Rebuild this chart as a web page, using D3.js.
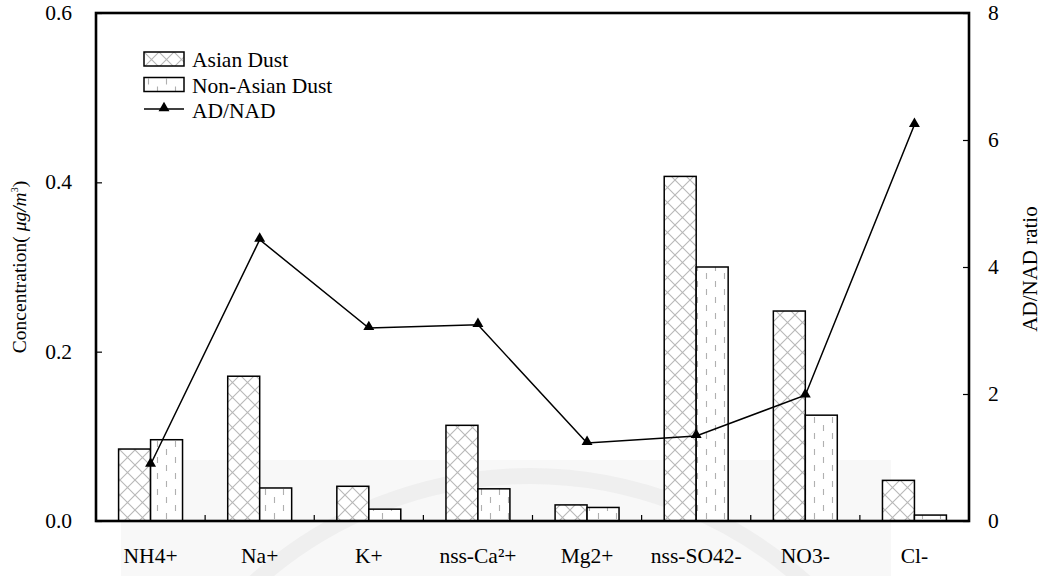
<!DOCTYPE html>
<html>
<head>
<meta charset="utf-8">
<script src="https://cdn.jsdelivr.net/npm/d3@7"></script>
<style>
  html, body { margin: 0; padding: 0; background: #fff; }
  svg { display: block; }
  svg text { font-family: "Liberation Serif", "Times New Roman", "DejaVu Serif", serif; fill: #000; }
</style>
</head>
<body>
<svg id="chart" width="1043" height="576"></svg>
<script>
// Ion species on the x axis
const categories = ["NH4+", "Na+", "K+", "nss-Ca²+", "Mg2+", "nss-SO42-", "NO3-", "Cl-"];
// Mean concentrations (µg/m³)
const asianDust    = [0.085, 0.171, 0.041, 0.113, 0.019, 0.407, 0.248, 0.048];
const nonAsianDust = [0.096, 0.039, 0.014, 0.038, 0.016, 0.300, 0.125, 0.007];
// Ratio of Asian Dust to Non-Asian Dust concentrations
const ratio        = [0.89, 4.43, 3.04, 3.09, 1.23, 1.34, 1.98, 6.24];
// Axis tick values
const leftTicks  = [0, 0.2, 0.4, 0.6];
const rightTicks = [0, 2, 4, 6, 8];
const seriesNames = ["Asian Dust", "Non-Asian Dust"];

const serif = "Liberation Serif, Times New Roman, serif";
const svg = d3.select("#chart");
const plot = { left: 96, right: 969, top: 13, bottom: 521 };

// faint seal backdrop behind the lower part of the chart
const wm = svg.append("g");
wm.append("rect").attr("x", 121).attr("y", 460).attr("width", 770).attr("height", 116)
  .attr("fill", "#f8f8f8");
const wmCx = 530, wmCy = 886;
wm.append("path").attr("fill", "none").attr("stroke", "#efefef").attr("stroke-width", 16)
  .attr("d", `M${wmCx - 410},${wmCy} A410,410 0 0 1 ${wmCx + 410},${wmCy}`);

// patterns
const defs = svg.append("defs");
const cross = defs.append("pattern").attr("id", "crossHatch")
  .attr("patternUnits", "userSpaceOnUse").attr("width", 15).attr("height", 15);
cross.append("rect").attr("width", 15).attr("height", 15).attr("fill", "#fff");
cross.append("path").attr("d", "M0,0 L15,15 M15,0 L0,15 M-1,14 L1,16 M14,-1 L16,1")
  .attr("stroke", "#b8b8b8").attr("stroke-width", 1.1);

const dash = defs.append("pattern").attr("id", "dashV")
  .attr("patternUnits", "userSpaceOnUse").attr("width", 18).attr("height", 16);
dash.append("rect").attr("width", 18).attr("height", 16).attr("fill", "#fff");
dash.append("path").attr("d", "M4.5,1 L4.5,7 M13.5,9 L13.5,15")
  .attr("stroke", "#b0b0b0").attr("stroke-width", 1.1);

const x = d3.scaleBand().domain(categories).range([plot.left, plot.right]).padding(0);
const bw = x.bandwidth();
const barW = bw * 0.293;
const xSub = d3.scaleBand().domain(seriesNames).range([bw / 2 - barW, bw / 2 + barW]);
const y = d3.scaleLinear().domain([0, 0.6]).range([plot.bottom, plot.top]);
const yR = d3.scaleLinear().domain([0, 8]).range([plot.bottom, plot.top]);

const rows = categories.map((c, i) => ({ c, ad: asianDust[i], nad: nonAsianDust[i], r: ratio[i] }));

// bars
const barG = svg.append("g");
const fills = { "Asian Dust": "url(#crossHatch)", "Non-Asian Dust": "url(#dashV)" };
seriesNames.forEach((s, si) => {
  barG.selectAll(null).data(rows).enter().append("rect")
    .attr("x", d => x(d.c) + xSub(s))
    .attr("y", d => y(si === 0 ? d.ad : d.nad))
    .attr("width", xSub.bandwidth())
    .attr("height", d => y(0) - y(si === 0 ? d.ad : d.nad))
    .attr("fill", fills[s])
    .attr("stroke", "#000").attr("stroke-width", 1.5);
});

// axes
const fontSize = 21.5;
const axL = svg.append("g").attr("transform", `translate(${plot.left},0)`)
  .call(d3.axisLeft(y).tickValues(leftTicks).tickFormat(d3.format(".1f")).tickSize(-6).tickPadding(24));
const axR = svg.append("g").attr("transform", `translate(${plot.right},0)`)
  .call(d3.axisRight(yR).tickValues(rightTicks).tickFormat(d3.format("d")).tickSize(-6).tickPadding(19));
const axB = svg.append("g").attr("transform", `translate(0,${plot.bottom})`)
  .call(d3.axisBottom(x).tickSize(0).tickPadding(27));
[axL, axR, axB].forEach(g => {
  g.attr("font-family", serif).attr("font-size", fontSize);
  g.select(".domain").remove();
  g.selectAll("text").attr("font-size", fontSize).style("fill", "#000");
  g.selectAll("line").attr("stroke", "#000").attr("stroke-width", 1.2);
});
axL.selectAll("text").attr("dy", "0.3em");
axR.selectAll("text").attr("dy", "0.3em");

// category separator ticks
svg.append("g").selectAll("line").data(categories.slice(1)).enter().append("line")
  .attr("x1", d => x(d)).attr("x2", d => x(d))
  .attr("y1", plot.bottom).attr("y2", plot.bottom - 6)
  .attr("stroke", "#000").attr("stroke-width", 1.2);

// frame
svg.append("rect").attr("x", plot.left).attr("y", plot.top)
  .attr("width", plot.right - plot.left).attr("height", plot.bottom - plot.top)
  .attr("fill", "none").attr("stroke", "#000").attr("stroke-width", 2.6);

// ratio line
const line = d3.line().x(d => x(d.c) + bw / 2).y(d => yR(d.r));
svg.append("path").datum(rows).attr("d", line)
  .attr("fill", "none").attr("stroke", "#000").attr("stroke-width", 1.5);
const tri = d3.symbol().type(d3.symbolTriangle).size(52);
svg.append("g").selectAll("path").data(rows).enter().append("path")
  .attr("d", tri)
  .attr("transform", d => `translate(${x(d.c) + bw / 2},${yR(d.r) - 1})`)
  .attr("fill", "#000");

// axis titles
const yt = svg.append("text")
  .attr("transform", `translate(26,${(plot.top + plot.bottom) / 2}) rotate(-90)`)
  .attr("text-anchor", "middle").attr("font-size", 19.5).attr("font-family", serif);
yt.append("tspan").text("Concentration(");
yt.append("tspan").attr("font-style", "italic").text(" μg/m");
yt.append("tspan").attr("font-size", 10).attr("dy", -8).text("3");
yt.append("tspan").attr("dy", 8).text(")");

svg.append("text")
  .attr("transform", `translate(1037,${(plot.top + plot.bottom) / 2 + 2}) rotate(-90)`)
  .attr("text-anchor", "middle").attr("font-size", 21).attr("font-family", serif)
  .text("AD/NAD ratio");

// legend
const lg = svg.append("g").attr("transform", "translate(144,52)");
const legendItems = [
  { label: "Asian Dust", type: "bar", fill: fills["Asian Dust"] },
  { label: "Non-Asian Dust", type: "bar", fill: fills["Non-Asian Dust"] },
  { label: "AD/NAD", type: "line" }
];
legendItems.forEach((it, i) => {
  const g = lg.append("g").attr("transform", `translate(0,${i * 25.5})`);
  if (it.type === "bar") {
    g.append("rect").attr("x", 0).attr("y", 0).attr("width", 40).attr("height", 14)
      .attr("fill", it.fill).attr("stroke", "#000").attr("stroke-width", 1.5);
  } else {
    g.append("line").attr("x1", 0).attr("x2", 40).attr("y1", 6).attr("y2", 6)
      .attr("stroke", "#000").attr("stroke-width", 1.5);
    g.append("path").attr("d", tri).attr("transform", "translate(20,5)").attr("fill", "#000");
  }
  g.append("text").attr("x", 48).attr("y", 15).attr("font-size", fontSize)
    .attr("font-family", serif).text(it.label);
});
</script>
</body>
</html>
